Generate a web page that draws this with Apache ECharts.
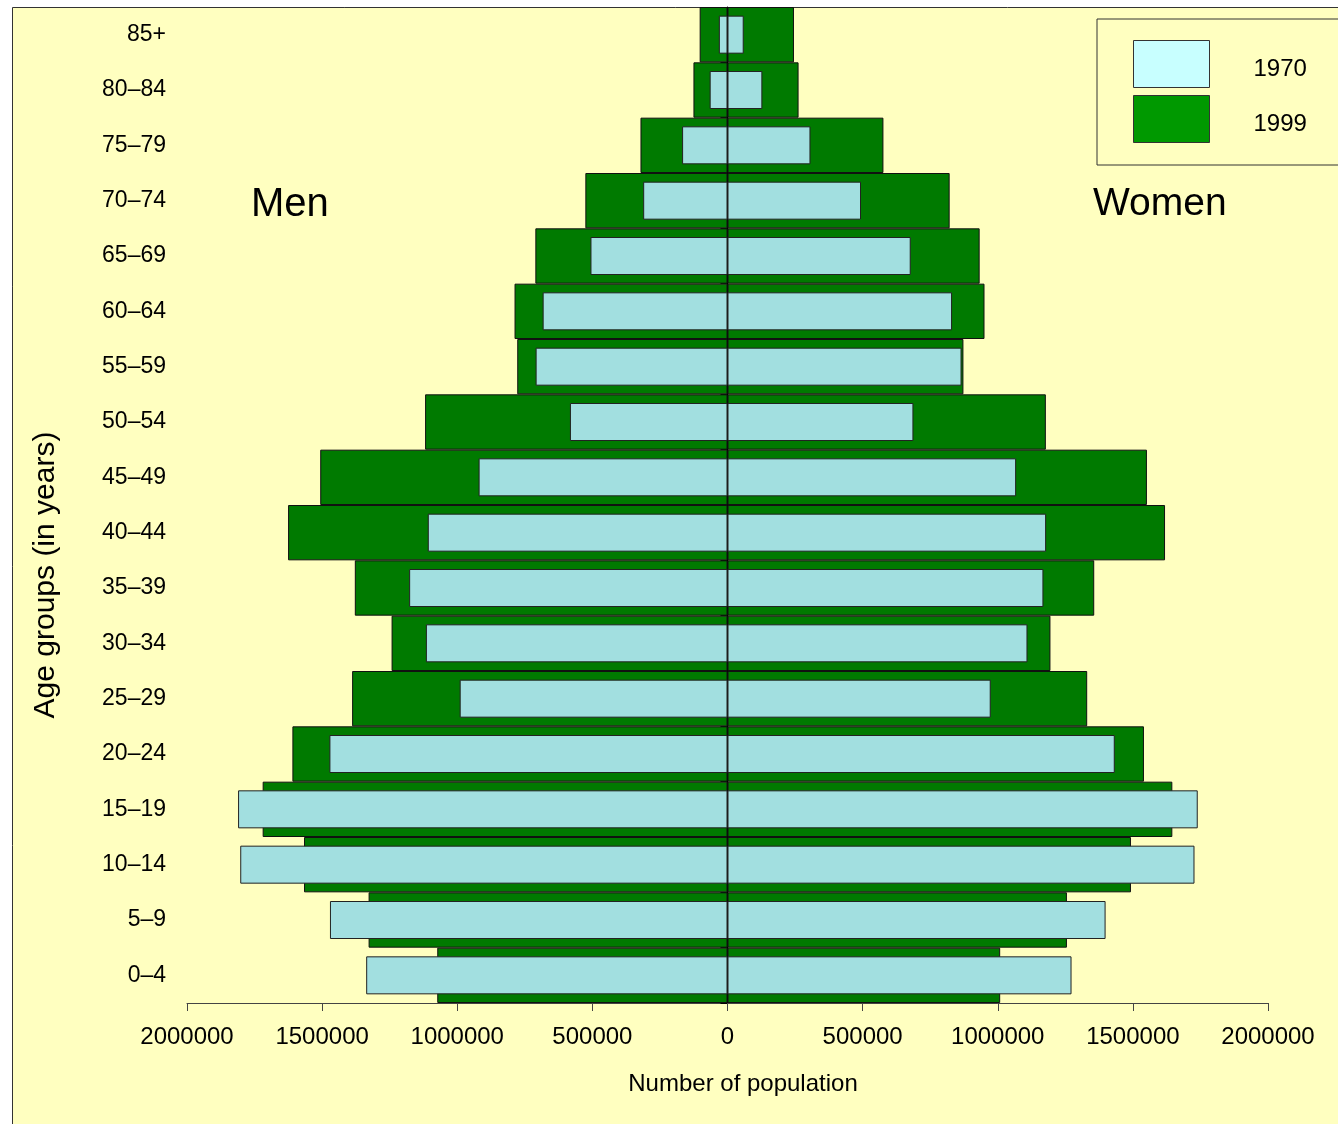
<!DOCTYPE html>
<html>
<head>
<meta charset="utf-8">
<title>Population pyramid 1970 / 1999</title>
<script src="https://cdn.jsdelivr.net/npm/echarts@6/dist/echarts.min.js"></script>
<style>
  html, body { margin: 0; padding: 0; background: #ffffff; }
  #chart { width: 1338px; height: 1124px; }
</style>
</head>
<body>
<div id="chart"></div>
<script>
// Age groups, youngest first (drawn bottom to top)
const ageGroups = ['0–4', '5–9', '10–14', '15–19', '20–24', '25–29', '30–34', '35–39', '40–44',
                   '45–49', '50–54', '55–59', '60–64', '65–69', '70–74', '75–79', '80–84', '85+'];

// Population counts per age group
const men1970   = [1337000, 1471000, 1803000, 1811000, 1473000, 991000, 1116000, 1178000, 1109000,
                   921000, 583000, 710000, 684000, 507000, 312000, 168000, 66000, 32000];
const women1970 = [1273000, 1399000, 1728000, 1740000, 1433000, 974000, 1110000, 1169000, 1179000,
                   1068000, 688000, 866000, 831000, 678000, 494000, 307000, 129000, 60000];
const men1999   = [1074000, 1328000, 1567000, 1720000, 1610000, 1389000, 1243000, 1379000, 1626000,
                   1507000, 1119000, 778000, 788000, 711000, 526000, 322000, 126000, 103000];
const women1999 = [1009000, 1256000, 1493000, 1646000, 1541000, 1331000, 1195000, 1357000, 1619000,
                   1552000, 1178000, 873000, 951000, 933000, 822000, 577000, 263000, 246000];

const xTicks = { min: -2000000, max: 2000000, step: 500000 };

const FONT = '"Liberation Sans", Arial, Helvetica, sans-serif';
const GREEN = '#007a00';
const LIGHT = '#a2dfe0';

const neg = arr => arr.map(v => -v);

const chart = echarts.init(document.getElementById('chart'), null, { renderer: 'canvas' });

chart.setOption({
  backgroundColor: '#ffffff',
  animation: false,
  textStyle: { fontFamily: FONT },
  graphic: [
    {
      type: 'rect', z: -10, silent: true,
      shape: { x: 12.5, y: 7.5, width: 1400, height: 1200 },
      style: { fill: '#ffffc0', stroke: '#333333', lineWidth: 1 }
    },
    {
      type: 'text', z: 10, silent: true,
      style: { x: 251, y: 205, text: 'Men', font: '40px ' + FONT, fill: '#000', verticalAlign: 'middle' }
    },
    {
      type: 'text', z: 10, silent: true,
      style: { x: 1093, y: 204, text: 'Women', font: '39px ' + FONT, fill: '#000', verticalAlign: 'middle' }
    }
  ],
  legend: {
    data: [
      { name: '1970', itemStyle: { color: '#c8ffff', borderColor: '#333', borderWidth: 1 } },
      { name: '1999', itemStyle: { color: '#009900', borderColor: '#333', borderWidth: 1 } }
    ],
    orient: 'vertical',
    left: 1097,
    top: 19,
    padding: [21, 50, 22, 36],
    itemWidth: 76,
    itemHeight: 47,
    itemGap: 7,
    icon: 'rect',
    selectedMode: false,
    borderColor: '#333333',
    borderWidth: 1,
    formatter: '{t|{name}}',
    textStyle: {
      color: '#000', fontFamily: FONT, padding: [0, 0, 0, 39],
      rich: { t: { fontSize: 24, color: '#000', fontFamily: FONT, padding: [10, 0, 0, 0] } }
    }
  },
  grid: { left: 187, right: 70, top: 7, bottom: 121, containLabel: false },
  xAxis: {
    type: 'value',
    min: xTicks.min,
    max: xTicks.max,
    interval: xTicks.step,
    splitLine: { show: false },
    axisLine: { show: true, lineStyle: { color: '#444', width: 1 } },
    axisTick: { show: true, length: 8, lineStyle: { color: '#444' } },
    axisLabel: {
      fontSize: 24, color: '#000', margin: 22, fontFamily: FONT,
      formatter: v => String(Math.abs(v))
    },
    name: 'Number of population',
    nameLocation: 'middle',
    nameGap: 69,
    nameTextStyle: { fontSize: 24, color: '#000', fontFamily: FONT, padding: [0, 0, 0, 31] }
  },
  yAxis: [
    {
      type: 'category',
      data: ageGroups,
      axisLine: { show: false, onZero: false },
      axisTick: { show: false },
      axisLabel: { fontSize: 23, color: '#000', margin: 21, fontFamily: FONT },
      name: 'Age groups (in years)',
      nameLocation: 'middle',
      nameGap: 126,
      nameRotate: 90,
      nameTextStyle: { fontSize: 30, color: '#000', fontFamily: FONT, padding: [0, 140, 0, 0] }
    },
    {
      type: 'category',
      data: ageGroups,
      position: 'left',
      axisLine: { show: true, onZero: true, lineStyle: { color: '#000', width: 1 } },
      axisTick: { show: true, length: 7, lineStyle: { color: '#000' } },
      axisLabel: { show: false },
      splitLine: { show: false }
    }
  ],
  series: [
    {
      name: '1999', type: 'bar', yAxisIndex: 0, stack: 'y1999',
      barCategoryGap: '0%',
      data: neg(men1999),
      itemStyle: { color: GREEN, borderColor: '#111', borderWidth: 1 }
    },
    {
      name: '1999', type: 'bar', yAxisIndex: 0, stack: 'y1999',
      barCategoryGap: '0%',
      data: women1999,
      itemStyle: { color: GREEN, borderColor: '#111', borderWidth: 1 }
    },
    {
      name: '1970', type: 'bar', yAxisIndex: 1, stack: 'y1970',
      barWidth: 38,
      data: neg(men1970),
      itemStyle: { color: LIGHT, borderColor: '#222', borderWidth: 1 }
    },
    {
      name: '1970', type: 'bar', yAxisIndex: 1, stack: 'y1970',
      barWidth: 38,
      data: women1970,
      itemStyle: { color: LIGHT, borderColor: '#222', borderWidth: 1 }
    }
  ]
});
</script>
</body>
</html>
